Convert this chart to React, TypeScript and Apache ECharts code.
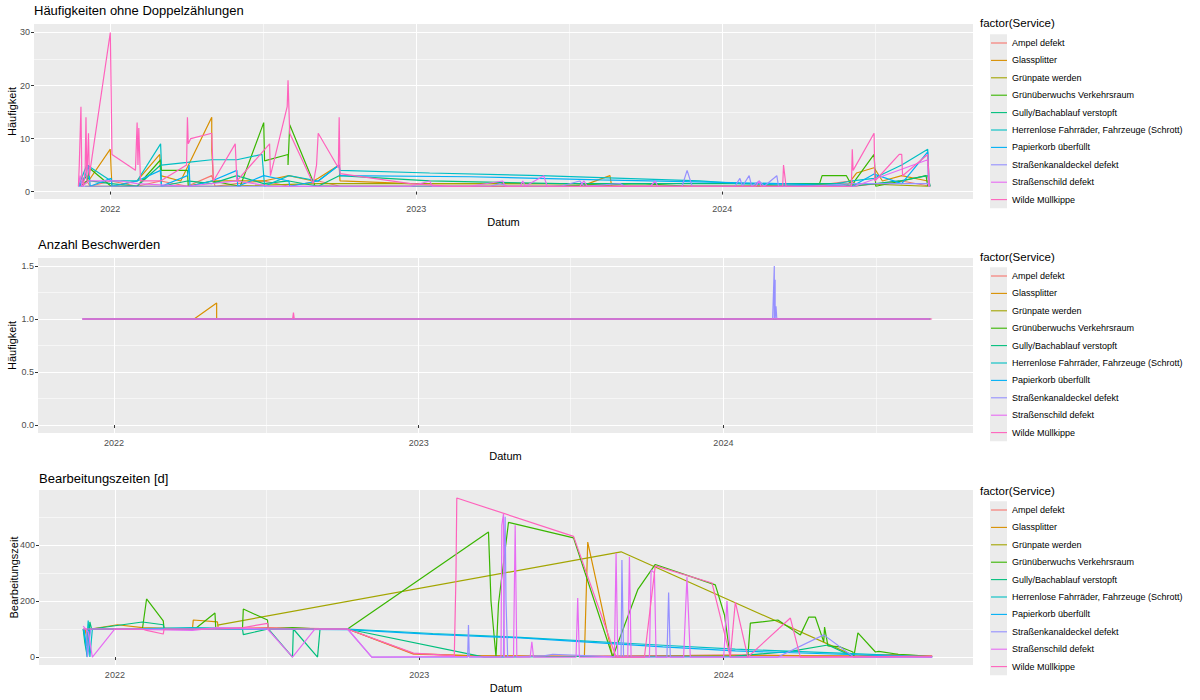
import React, { useEffect, useRef } from "react";
import * as echarts from "echarts";

type Pt = [string, number];

const services = [
  "Ampel defekt",
  "Glassplitter",
  "Grünpate werden",
  "Grünüberwuchs Verkehrsraum",
  "Gully/Bachablauf verstopft",
  "Herrenlose Fahrräder, Fahrzeuge (Schrott)",
  "Papierkorb überfüllt",
  "Straßenkanaldeckel defekt",
  "Straßenschild defekt",
  "Wilde Müllkippe",
];
const serviceColors = ["#F8766D", "#D89000", "#A3A500", "#39B600", "#00BF7D", "#00BFC4", "#00B0F6", "#9590FF", "#E76BF3", "#FF62BC"];

const panelTitles = ["Häufigkeiten ohne Doppelzählungen", "Anzahl Beschwerden", "Bearbeitungszeiten [d]"];
const yAxisTitles = ["Häufigkeit", "Häufigkeit", "Bearbeitungszeit"];
const xAxisTitle = "Datum";
const legendTitle = "factor(Service)";

const dateRange = ["2021-10-02", "2024-10-26"];
const yearBreaks = ["2022-01-01", "2023-01-01", "2024-01-01"];
const yearMinorBreaks = ["2022-07-02", "2023-07-02", "2024-07-02"];

const yRanges = [[-1.4, 31.6], [-0.075, 1.575], [-28.35, 595.35]];
const yBreaks = [[0, 10, 20, 30], [0, 0.5, 1, 1.5], [0, 200, 400]];
const yMinorBreaks = [[5, 15, 25], [0.25, 0.75, 1.25], [100, 300, 500]];

// Panel 1: Häufigkeiten ohne Doppelzählungen
const h_ampel: Pt[] = [["2021-11-26",1],["2021-12-04",2],["2021-12-08",1],["2022-01-02",2],["2022-02-02",1],["2022-03-02",2],["2022-04-03",1],["2022-05-02",3],["2022-05-06",1],["2022-06-01",1.5],["2022-07-03",2],["2022-08-02",1],["2022-09-06",2],["2022-10-02",1],["2023-01-17",1],["2023-04-11",1],["2023-07-15",1],["2023-10-19",1],["2024-01-22",1],["2024-04-14",1],["2024-06-04",2],["2024-06-07",1],["2024-08-02",2],["2024-09-05",1]];
const h_glas: Pt[] = [["2021-11-28",1],["2021-12-06",2],["2022-01-01",8],["2022-01-02",4],["2022-01-03",1],["2022-02-02",2],["2022-03-01",7],["2022-03-02",3],["2022-03-26",2],["2022-05-02",14],["2022-05-02",8],["2022-05-04",2],["2022-06-01",2],["2022-07-03",2],["2022-08-02",3],["2022-08-31",2],["2022-09-06",2.5],["2022-10-01",5],["2022-10-02",2],["2022-12-25",1.5],["2023-07-25",1.5],["2023-08-20",3],["2023-08-22",1],["2024-01-22",1],["2024-05-28",1],["2024-06-09",3.5],["2024-06-30",4.5],["2024-07-10",2],["2024-08-02",3],["2024-09-02",2],["2024-09-05",1]];
const h_gruenpate: Pt[] = [["2021-12-02",1],["2022-01-13",1],["2022-05-08",1],["2022-09-06",1.5],["2023-03-06",1.5],["2023-07-10",1.5],["2023-09-01",1],["2024-01-22",1],["2024-06-13",1.5],["2024-09-02",1]];
const h_gruenueber: Pt[] = [["2021-11-27",1],["2021-12-04",2],["2021-12-08",4.3],["2022-01-02",1],["2022-02-02",1],["2022-03-02",6],["2022-03-03",4],["2022-04-03",4],["2022-04-04",1],["2022-05-02",2],["2022-06-05",1],["2022-07-03",13],["2022-07-04",5.8],["2022-08-01",7],["2022-08-01",5],["2022-08-03",12.6],["2022-09-02",1.1],["2022-10-01",1],["2023-01-17",1],["2023-06-10",1],["2023-09-25",1.5],["2023-11-23",1],["2024-03-21",1],["2024-04-26",1.5],["2024-04-29",3],["2024-05-28",3],["2024-06-04",1],["2024-06-07",2],["2024-06-30",7],["2024-07-02",1],["2024-08-02",2],["2024-08-31",3],["2024-09-02",1]];
const h_gully: Pt[] = [["2021-11-25",1],["2021-12-04",3],["2021-12-08",2],["2022-01-02",1.5],["2022-02-02",1],["2022-03-02",5],["2022-03-03",1],["2022-04-03",2],["2022-05-02",1.5],["2022-06-01",3],["2022-07-03",1.5],["2022-08-02",2],["2022-09-06",1],["2022-10-01",3],["2023-01-17",2],["2023-06-22",1.5],["2024-01-22",1.5],["2024-05-20",1.5],["2024-06-04",1],["2024-07-30",2],["2024-09-02",3],["2024-09-05",1]];
const h_herrenlos: Pt[] = [["2021-11-24",1],["2021-12-04",5],["2022-01-02",2],["2022-02-02",2],["2022-03-02",9],["2022-03-03",5],["2022-04-03",5.5],["2022-05-02",6],["2022-06-01",6],["2022-07-01",7],["2022-07-04",1],["2022-08-02",3],["2022-09-06",2],["2022-10-01",5],["2022-10-02",4],["2023-01-17",3.5],["2023-05-29",3],["2023-12-05",2],["2024-01-22",1.5],["2024-04-26",1],["2024-06-04",2],["2024-06-30",2.5],["2024-08-02",5],["2024-09-02",8],["2024-09-03",1]];
const h_papier: Pt[] = [["2021-11-25",1],["2021-12-02",3],["2021-12-06",5],["2021-12-08",1],["2022-01-02",2.5],["2022-01-03",1],["2022-02-02",2],["2022-03-02",4],["2022-03-03",1],["2022-04-03",3],["2022-04-05",5],["2022-04-06",1],["2022-05-02",2],["2022-06-01",4],["2022-06-02",1],["2022-07-03",3],["2022-08-02",2],["2022-08-03",1],["2022-09-06",2],["2022-10-01",5],["2022-10-02",3],["2023-03-06",2.8],["2023-08-08",2.2],["2023-12-17",1.8],["2024-03-09",1.5],["2024-06-04",1],["2024-06-30",3.3],["2024-08-02",1.5],["2024-09-02",7.5],["2024-09-04",1]];
const h_kanal: Pt[] = [["2021-11-24",1],["2022-03-02",1],["2022-07-03",1],["2022-10-01",1],["2023-01-17",1],["2023-03-30",1],["2023-04-11",1.5],["2023-04-20",1],["2023-06-22",1],["2023-07-15",2],["2023-07-20",1],["2023-09-01",1.5],["2023-09-07",1],["2023-11-14",1],["2023-11-20",4],["2023-11-26",1],["2024-01-16",1],["2024-01-22",2.5],["2024-01-25",1],["2024-02-02",3],["2024-02-05",1],["2024-02-14",2],["2024-02-20",1],["2024-03-06",3],["2024-03-08",1],["2024-04-14",1],["2024-06-04",1.5],["2024-09-02",1.5],["2024-09-05",1]];
const h_schild: Pt[] = [["2021-11-24",1],["2021-11-26",3],["2021-11-28",1],["2021-12-06",2],["2022-01-13",2],["2022-02-02",1.5],["2022-04-03",1],["2022-06-01",2],["2022-07-11",1],["2022-09-06",1],["2022-10-02",1],["2022-12-25",1],["2023-01-17",2],["2023-01-20",1],["2023-03-06",1],["2023-04-14",2],["2023-04-17",1],["2023-05-05",1],["2023-05-08",2],["2023-05-11",1],["2023-06-02",3],["2023-06-06",1],["2023-07-15",1],["2023-07-20",2],["2023-07-24",1],["2023-10-07",1],["2023-10-13",2],["2023-10-16",1],["2024-02-10",1],["2024-02-14",2],["2024-02-16",1],["2024-06-07",1],["2024-09-02",6],["2024-09-03",1]];
const h_muell: Pt[] = [["2021-11-24",1],["2021-11-25",5],["2021-11-27",16],["2021-11-28",3],["2021-11-30",1],["2021-12-02",4],["2021-12-03",14],["2021-12-04",2],["2021-12-06",11],["2021-12-07",3],["2022-01-01",30],["2022-01-02",19],["2022-01-03",7],["2022-01-31",4],["2022-02-02",13],["2022-02-03",5],["2022-02-04",12],["2022-02-06",2],["2022-03-02",2],["2022-04-02",5],["2022-04-03",14],["2022-04-04",9],["2022-04-07",10],["2022-05-02",11],["2022-05-04",2],["2022-05-30",9],["2022-06-01",2],["2022-07-10",9],["2022-07-11",3],["2022-07-31",16],["2022-08-01",21],["2022-08-02",16],["2022-08-03",11],["2022-08-31",1.5],["2022-09-04",5],["2022-09-06",11],["2022-09-30",4.5],["2022-10-01",14],["2022-10-02",3.4],["2022-12-25",1.5],["2023-02-10",1],["2023-07-15",1],["2023-11-12",1],["2024-03-13",1],["2024-03-14",5],["2024-03-17",1],["2024-06-03",1],["2024-06-04",8],["2024-06-05",4],["2024-06-30",11],["2024-07-01",2],["2024-07-30",7],["2024-08-02",7],["2024-08-03",3],["2024-09-02",7],["2024-09-04",1]];

// Panel 2: Anzahl Beschwerden
const b_ampel: Pt[] = [["2021-11-26",1],["2022-06-01",1],["2023-06-01",1],["2024-09-05",1]];
const b_glas: Pt[] = [["2021-11-28",1],["2022-04-07",1],["2022-05-04",1.15],["2022-05-04",1],["2024-09-05",1]];
const b_gruenpate: Pt[] = [["2021-12-02",1],["2023-06-01",1],["2024-09-02",1]];
const b_gruenueber: Pt[] = [["2021-11-27",1],["2023-01-17",1],["2024-09-02",1]];
const b_gully: Pt[] = [["2021-11-25",1],["2023-06-22",1],["2024-09-05",1]];
const b_herrenlos: Pt[] = [["2021-11-24",1],["2023-05-29",1],["2024-09-03",1]];
const b_papier: Pt[] = [["2021-11-25",1],["2023-08-08",1],["2024-09-04",1]];
const b_kanal: Pt[] = [["2021-11-24",1],["2024-02-29",1],["2024-03-01",1.25],["2024-03-02",1.5],["2024-03-02",1],["2024-03-03",1.37],["2024-03-03",1],["2024-03-04",1.12],["2024-03-05",1],["2024-09-05",1]];
const b_schild: Pt[] = [["2021-11-24",1],["2023-04-14",1],["2024-09-03",1]];
const b_muell: Pt[] = [["2021-11-24",1],["2022-08-03",1],["2022-08-04",1.06],["2022-08-05",1],["2024-09-07",1]];

// Panel 3: Bearbeitungszeiten [d]
const z_ampel: Pt[] = [["2021-11-24",100],["2021-11-29",90],["2021-11-30",20],["2021-12-02",100],["2022-01-04",100],["2022-04-04",100],["2022-07-03",105],["2022-10-07",100],["2022-12-25",10],["2023-03-01",5],["2023-07-08",3],["2023-11-22",6],["2024-01-15",8],["2024-04-02",5],["2024-06-11",3],["2024-07-05",8],["2024-08-01",5],["2024-09-07",4]];
const z_glas: Pt[] = [["2021-11-26",100],["2021-11-29",60],["2021-12-03",100],["2022-01-04",115],["2022-02-03",105],["2022-04-04",100],["2022-04-05",132],["2022-05-04",125],["2022-05-05",100],["2022-07-03",100],["2022-10-07",100],["2022-12-25",12],["2023-03-01",5],["2023-07-18",2],["2023-07-22",410],["2023-08-21",0],["2023-12-22",5],["2024-03-03",5],["2024-06-10",3],["2024-07-28",10],["2024-08-05",3],["2024-09-07",3]];
const z_gruenpate: Pt[] = [["2022-05-04",114],["2023-08-31",375],["2024-06-05",5]];
const z_gruenueber: Pt[] = [["2021-12-04",100],["2022-02-03",100],["2022-02-08",207],["2022-02-28",129],["2022-03-01",100],["2022-04-07",100],["2022-05-01",157],["2022-05-02",100],["2022-06-03",100],["2022-06-04",171],["2022-07-03",132],["2022-07-04",100],["2022-08-02",105],["2022-09-04",100],["2022-10-07",100],["2023-03-25",446],["2023-03-28",200],["2023-04-03",0],["2023-04-06",190],["2023-04-18",480],["2023-07-05",425],["2023-08-21",0],["2023-09-20",240],["2023-10-11",330],["2023-12-22",257],["2024-01-02",150],["2024-01-09",0],["2024-01-30",0],["2024-02-02",121],["2024-03-06",132],["2024-04-02",79],["2024-04-12",142],["2024-04-20",142],["2024-04-30",54],["2024-05-01",107],["2024-05-05",40],["2024-05-20",36],["2024-06-04",18],["2024-06-05",0],["2024-06-10",86],["2024-07-01",18],["2024-07-05",20],["2024-07-28",10],["2024-08-10",8],["2024-09-07",2]];
const z_gully: Pt[] = [["2021-11-24",100],["2021-11-26",50],["2021-11-29",0],["2021-12-02",125],["2021-12-04",100],["2022-02-03",125],["2022-02-28",115],["2022-03-01",100],["2022-06-03",100],["2022-06-04",80],["2022-07-04",100],["2022-08-02",0],["2022-08-03",100],["2022-09-01",0],["2022-09-04",100],["2022-10-07",100],["2023-03-20",0],["2023-08-01",2],["2024-01-15",3],["2024-03-21",20],["2024-05-05",43],["2024-06-05",0],["2024-09-07",1]];
const z_herrenlos: Pt[] = [["2021-11-24",100],["2021-11-28",40],["2021-11-30",130],["2021-12-02",0],["2021-12-05",100],["2022-01-04",100],["2022-04-04",105],["2022-07-03",100],["2022-10-07",100],["2023-01-17",84],["2023-05-02",70],["2023-10-20",42],["2024-01-15",28],["2024-05-20",14],["2024-09-07",1]];
const z_papier: Pt[] = [["2021-11-25",100],["2021-11-29",0],["2021-12-01",100],["2022-01-01",100],["2022-05-04",100],["2022-10-07",98],["2023-01-17",81],["2023-05-02",68],["2023-10-20",36],["2024-01-15",22],["2024-05-20",10],["2024-09-07",0]];
const z_kanal: Pt[] = [["2021-11-24",100],["2021-11-28",100],["2021-11-29",0],["2021-12-03",100],["2022-10-07",100],["2022-11-05",0],["2023-02-28",0],["2023-03-01",114],["2023-03-02",0],["2023-04-12",0],["2023-04-13",380],["2023-04-14",500],["2023-04-15",200],["2023-04-17",0],["2023-06-01",5],["2023-06-10",10],["2023-08-31",0],["2023-09-01",346],["2023-09-03",0],["2023-10-25",0],["2023-10-27",230],["2023-10-29",0],["2024-03-06",0],["2024-04-30",79],["2024-06-05",0],["2024-09-07",0]];
const z_schild: Pt[] = [["2021-11-24",110],["2021-11-30",90],["2021-12-05",0],["2022-01-01",100],["2022-04-04",95],["2022-05-04",105],["2022-07-03",100],["2022-08-02",0],["2022-08-29",100],["2022-10-07",100],["2022-11-05",0],["2023-02-13",2],["2023-04-09",0],["2023-04-10",470],["2023-04-12",510],["2023-04-13",0],["2023-04-24",0],["2023-04-26",470],["2023-04-28",0],["2023-05-14",0],["2023-05-16",54],["2023-05-18",0],["2023-07-08",0],["2023-07-10",210],["2023-07-12",0],["2023-08-23",0],["2023-08-25",371],["2023-08-27",0],["2023-09-08",0],["2023-09-10",357],["2023-09-12",0],["2023-10-04",0],["2023-10-06",310],["2023-10-10",300],["2023-10-12",0],["2023-11-14",0],["2023-11-18",286],["2023-11-22",0],["2024-01-01",0],["2024-01-05",200],["2024-01-09",0],["2024-09-07",0]];
const z_muell: Pt[] = [["2021-11-24",100],["2021-12-02",100],["2022-01-04",100],["2022-02-03",100],["2022-02-08",95],["2022-02-28",82],["2022-03-01",100],["2022-05-04",100],["2022-06-04",105],["2022-07-03",120],["2022-07-04",100],["2022-10-07",100],["2022-12-25",14],["2023-02-12",5],["2023-02-14",290],["2023-02-15",567],["2023-07-05",430],["2023-08-25",0],["2023-09-28",0],["2023-10-11",325],["2023-12-18",264],["2024-01-09",0],["2024-01-15",196],["2024-01-30",0],["2024-03-21",139],["2024-04-02",0],["2024-09-07",3]];

const panelData: Pt[][][] = [
  [h_ampel, h_glas, h_gruenpate, h_gruenueber, h_gully, h_herrenlos, h_papier, h_kanal, h_schild, h_muell],
  [b_ampel, b_glas, b_gruenpate, b_gruenueber, b_gully, b_herrenlos, b_papier, b_kanal, b_schild, b_muell],
  [z_ampel, z_glas, z_gruenpate, z_gruenueber, z_gully, z_herrenlos, z_papier, z_kanal, z_schild, z_muell],
];

const DAY = 86400000;
const ms = (d: string) => Date.parse(d + "T00:00:00Z");
const origin = ms(dateRange[0]);
// x values: days since the left edge of the date range
const dayOf = (d: string) => (ms(d) - origin) / DAY;
const FONT = "'Liberation Sans', Arial, sans-serif";

export default function App() {
  const ref = useRef<HTMLDivElement>(null);

  useEffect(() => {
    document.body.style.margin = "0";
    if (!ref.current) return;
    const chart = echarts.init(ref.current, undefined, { renderer: "svg" });

    const grids = [
      { left: 34, top: 24, width: 939, height: 175 },
      { left: 38, top: 258, width: 935, height: 175 },
      { left: 39, top: 490, width: 934, height: 175 },
    ];
    const titleTops = [4, 238, 472];
    const legendTops = [34.3, 267.3, 501.3];
    const legendTitleYs = [23, 257, 491];
    const yNameGaps = [17, 21, 20];
    const yFormat = [
      (v: number) => String(v),
      (v: number) => v.toFixed(1),
      (v: number) => String(Math.round(v)),
    ];

    const xMin = 0;
    const xMax = dayOf(dateRange[1]);
    const xMajor = yearBreaks.map(dayOf);
    const xMinor = yearMinorBreaks.map(dayOf);

    const xAxis: any[] = [];
    const yAxis: any[] = [];
    grids.forEach((g, i) => {
      xAxis.push({
        gridIndex: i,
        type: "value",
        min: xMin,
        max: xMax,
        axisLine: { show: false },
        axisTick: { show: true, length: 3, lineStyle: { color: "#333333", width: 1 }, customValues: xMajor },
        axisLabel: {
          customValues: xMajor,
          formatter: (v: number) => String(new Date(origin + v * DAY + DAY / 2).getUTCFullYear()),
          fontSize: 9,
          color: "#4D4D4D",
          margin: 5,
          fontFamily: FONT,
        },
        splitLine: { show: true, lineStyle: { color: "#FFFFFF", width: 1.1 } },
        name: xAxisTitle,
        nameLocation: "middle",
        nameGap: 17,
        nameMoveOverlap: false,
        nameTextStyle: { fontSize: 11, color: "#000000", fontFamily: FONT },
      });
      xAxis.push({
        gridIndex: i,
        type: "value",
        position: "top",
        min: xMin,
        max: xMax,
        axisLine: { show: false },
        axisTick: { show: false, customValues: xMinor },
        axisLabel: { show: false, customValues: xMinor },
        splitLine: { show: true, lineStyle: { color: "#FFFFFF", width: 0.55 } },
      });
      yAxis.push({
        gridIndex: i,
        type: "value",
        min: yRanges[i][0],
        max: yRanges[i][1],
        axisLine: { show: false },
        axisTick: { show: true, length: 3, lineStyle: { color: "#333333", width: 1 }, customValues: yBreaks[i] },
        axisLabel: {
          customValues: yBreaks[i],
          formatter: yFormat[i],
          fontSize: 9,
          color: "#4D4D4D",
          margin: 4,
          fontFamily: FONT,
        },
        splitLine: { show: true, lineStyle: { color: "#FFFFFF", width: 1.1 } },
        name: yAxisTitles[i],
        nameLocation: "middle",
        nameGap: yNameGaps[i],
        nameMoveOverlap: false,
        nameTextStyle: { fontSize: 11, color: "#000000", fontFamily: FONT },
      });
      yAxis.push({
        gridIndex: i,
        type: "value",
        position: "right",
        min: yRanges[i][0],
        max: yRanges[i][1],
        axisLine: { show: false },
        axisTick: { show: false, customValues: yMinorBreaks[i] },
        axisLabel: { show: false, customValues: yMinorBreaks[i] },
        splitLine: { show: true, lineStyle: { color: "#FFFFFF", width: 0.55 } },
      });
    });

    const series: any[] = [];
    panelData.forEach((pd, p) => {
      pd.forEach((pts, k) => {
        series.push({
          type: "line",
          name: services[k],
          xAxisIndex: p * 2,
          yAxisIndex: p * 2,
          data: pts.map(([d, v]) => [dayOf(d), v]),
          showSymbol: false,
          symbol: "none",
          lineStyle: { width: 1.2, color: serviceColors[k] },
          itemStyle: { color: serviceColors[k] },
          silent: true,
          emphasis: { disabled: true },
        });
      });
    });

    const option: any = {
      animation: false,
      backgroundColor: "#FFFFFF",
      color: serviceColors,
      textStyle: { fontFamily: FONT },
      title: panelTitles.map((text, i) => ({
        text,
        left: grids[i].left,
        top: titleTops[i],
        padding: 0,
        textStyle: { fontSize: 13, fontWeight: "normal", color: "#000000", fontFamily: FONT },
      })),
      grid: grids.map((g) => ({
        ...g,
        show: true,
        backgroundColor: "#EBEBEB",
        borderWidth: 0,
        containLabel: false,
        outerBoundsMode: "none",
      })),
      xAxis,
      yAxis,
      legend: legendTops.map((top) => ({
        data: services,
        orient: "vertical",
        left: 991,
        top,
        padding: 0,
        icon: "rect",
        itemWidth: 16,
        itemHeight: 1.1,
        itemGap: 0,
        selectedMode: false,
        textStyle: { fontSize: 9, color: "#000000", lineHeight: 17.4, fontFamily: FONT },
      })),
      graphic: [
        ...legendTitleYs.map((y) => ({
          type: "text",
          x: 980,
          y,
          style: { text: legendTitle, fontSize: 11.5, fill: "#000000", verticalAlign: "middle", fontFamily: FONT },
        })),
        ...legendTops.map((y) => ({
          type: "rect",
          shape: { x: 990, y, width: 17, height: 174 },
          style: { fill: "#EBEBEB" },
          z: -1,
        })),
      ],
      series,
    };

    chart.setOption(option);
    return () => chart.dispose();
  }, []);

  return <div ref={ref} style={{ width: 1200, height: 700 }} />;
}
